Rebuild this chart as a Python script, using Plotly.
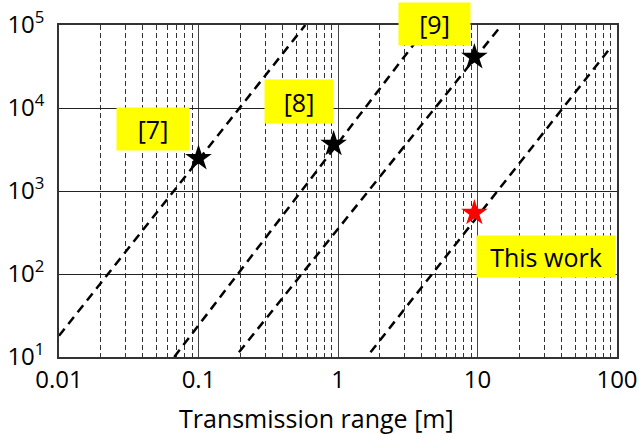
import plotly.graph_objects as go

# ---- data ----
line_x = [[0.01, 0.583], [0.067, 4.46], [0.195, 14.9], [1.71, 86.3]]
line_y = [[18, 1e5], [10, 1e5], [11.4, 1e5], [11.4, 49000]]

ref_x = [0.1, 0.93, 9.5]
ref_y = [2480, 3680, 41100]
ref_labels = ["[7]", "[8]", "[9]"]

work_x = [9.5]
work_y = [543]
work_label = "This work"

x_title = "Transmission range [m]"
x_ticks = [0.01, 0.1, 1, 10, 100]
x_ticktext = ["0.01", "0.1", "1", "10", "100"]
y_ticks = [10, 100, 1000, 10000, 100000]
y_ticktext = ["10<sup>1</sup>", "10<sup>2</sup>", "10<sup>3</sup>", "10<sup>4</sup>", "10<sup>5</sup>"]

FONT = "Open Sans"
W, H = 639, 434
ML, MR, MT, MB = 59, 22, 25, 77

fig = go.Figure()
for lx, ly in zip(line_x, line_y):
    fig.add_trace(go.Scatter(x=lx, y=ly, mode="lines",
                             line=dict(color="black", width=2.5, dash="9px,6px"),
                             showlegend=False, hoverinfo="skip"))

fig.add_trace(go.Scatter(x=ref_x, y=ref_y, mode="markers",
                         marker=dict(symbol="star", size=20, color="black"),
                         showlegend=False))
fig.add_trace(go.Scatter(x=work_x, y=work_y, mode="markers",
                         marker=dict(symbol="star", size=20, color="red"),
                         showlegend=False))

# label boxes (pixel boxes in figure -> paper coords)
pw, ph = W - ML - MR, H - MT - MB
def px(x):
    return (x - ML) / pw
def py(y):
    return (H - MB - y) / ph

boxes = [(153, 129, 72, 42), (299, 101.5, 68, 43), (434.5, 24, 71, 42)]
for lab, (cx, cy, bw, bh) in zip(ref_labels, boxes):
    fig.add_annotation(x=px(cx), y=py(cy), xref="paper", yref="paper",
                       xanchor="center", yanchor="middle",
                       text=lab, showarrow=False, bgcolor="#ffff00",
                       width=bw, height=bh, borderpad=0,
                       font=dict(family=FONT, size=25, color="black"))
fig.add_annotation(x=px(546), y=py(256.5), xref="paper", yref="paper",
                   xanchor="center", yanchor="middle",
                   text=work_label, showarrow=False, bgcolor="#ffff00",
                   width=138, height=41, borderpad=0,
                   font=dict(family=FONT, size=25, color="black"))

# x-axis title (offset left of plot centre as in the reference)
fig.add_annotation(x=px(316), y=py(418), xref="paper", yref="paper",
                   xanchor="center", yanchor="middle", showarrow=False,
                   text=x_title, font=dict(family=FONT, size=25, color="black"))

fig.update_layout(
    width=W, height=H,
    margin=dict(l=ML, r=MR, t=MT, b=MB, autoexpand=False),
    paper_bgcolor="white", plot_bgcolor="white",
    font=dict(family=FONT, color="black"),
)
fig.update_xaxes(type="log", range=[-2, 2], automargin=False,
                 tickvals=x_ticks, ticktext=x_ticktext,
                 tickfont=dict(size=24), ticks="",
                 showgrid=True, gridcolor="#444444", gridwidth=1.3,
                 minor=dict(dtick="D1", showgrid=True, gridcolor="#333333",
                            gridwidth=1, griddash="5px,3px", ticks=""),
                 showline=True, linecolor="#333333", linewidth=1.5, mirror=True,
                 zeroline=False)
fig.update_yaxes(type="log", range=[1, 5], automargin=False,
                 tickvals=y_ticks, ticktext=y_ticktext,
                 tickfont=dict(size=24), ticks="", ticklabelstandoff=8,
                 showgrid=True, gridcolor="#222222", gridwidth=1.3,
                 showline=True, linecolor="#333333", linewidth=1.5, mirror=True,
                 zeroline=False)

fig.write_html("out.html", config={"displayModeBar": False},
               post_script="document.body.style.margin='0';document.body.style.overflow='hidden';")
